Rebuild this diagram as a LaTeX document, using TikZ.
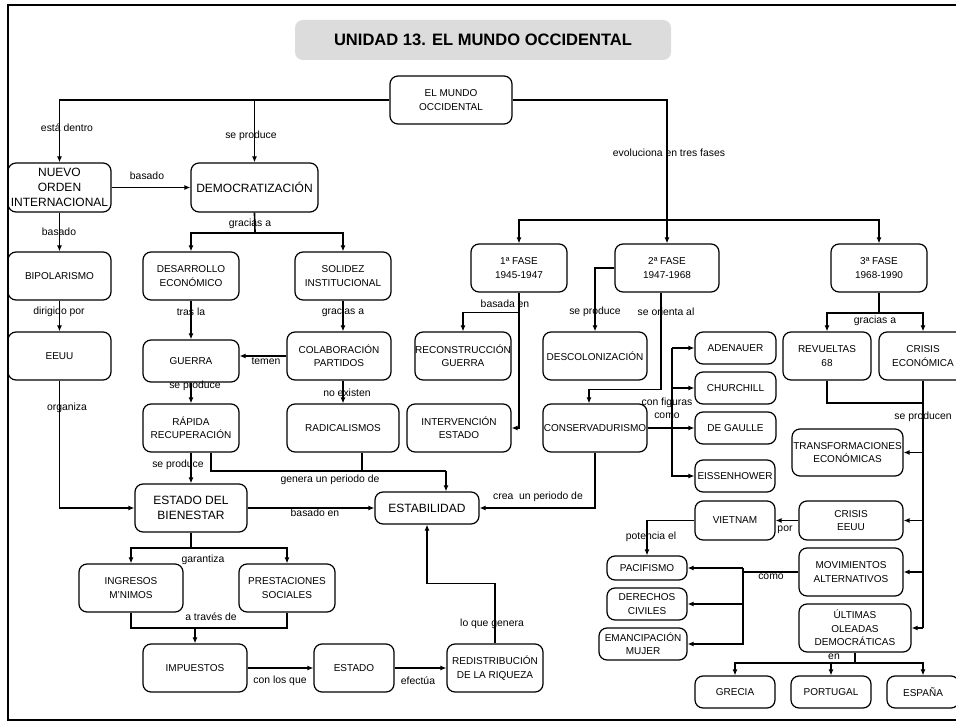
\documentclass[tikz,border=0pt]{standalone}
\usepackage{fontspec}
\setmainfont{Liberation Sans}
\usetikzlibrary{arrows.meta,calc}
\definecolor{titlegray}{HTML}{DCDCDC}
\begin{document}
\begin{tikzpicture}[x=0.75pt,y=-0.75pt,
  box/.style={draw, rounded corners=6pt, line width=0.9pt, align=center, inner sep=0pt, font=\fontsize{7.5}{10}\selectfont},
  big/.style={font=\fontsize{9}{11.25}\selectfont},
  sz/.style 2 args={minimum width=#1*0.75pt, minimum height=#2*0.75pt},
  conn/.style={line width=1.25pt, -{Latex[length=4.5pt,width=3.8pt]}},
  ln/.style={line width=1.25pt},
  lab/.style={font=\fontsize{7.8}{9.5}\selectfont, inner sep=0pt, align=center}]
\useasboundingbox (0,0) rectangle (956,723);
\draw[line width=2pt] (956,5) -- (8,5) -- (8,720) -- (956,720);

\node[fill=titlegray, rounded corners=6pt, sz={376}{40}, font=\bfseries\fontsize{12.4}{14}\selectfont] (title) at (483,40) {UNIDAD 13. EL MUNDO OCCIDENTAL};

% nodes
\node[box,sz={122}{48}] (mundo) at (451,100) {EL MUNDO\\OCCIDENTAL};
\node[box,big,sz={103}{49}] (nuevo) at (59.5,187.5) {NUEVO\\ORDEN\\INTERNACIONAL};
\node[box,big,sz={127}{49}] (demo) at (254.5,187.5) {DEMOCRATIZACIÓN};
\node[box,sz={103}{48}] (bipo) at (59.5,276) {BIPOLARISMO};
\node[box,sz={103}{48}] (eeuu) at (59.5,356) {EEUU};
\node[box,sz={96}{48}] (desa) at (191,276) {DESARROLLO\\ECONÓMICO};
\node[box,sz={96}{48}] (soli) at (343,276) {SOLIDEZ\\INSTITUCIONAL};
\node[box,sz={96}{42}] (guerra) at (191,361) {GUERRA};
\node[box,sz={104}{48}] (colab) at (339,356) {COLABORACIÓN\\PARTIDOS};
\node[box,sz={96}{48}] (rapida) at (191,428) {RÁPIDA\\RECUPERACIÓN};
\node[box,sz={112}{48}] (radic) at (343,428) {RADICALISMOS};
\node[box,big,sz={112}{48}] (bien) at (191,508) {ESTADO DEL\\BIENESTAR};
\node[box,big,sz={104}{32}] (estab) at (427,508) {ESTABILIDAD};
\node[box,sz={104}{48}] (ingr) at (131,588) {INGRESOS\\M'NIMOS};
\node[box,sz={96}{48}] (prest) at (287,588) {PRESTACIONES\\SOCIALES};
\node[box,sz={104}{48}] (impu) at (195,668) {IMPUESTOS};
\node[box,sz={80}{48}] (estado) at (354,668) {ESTADO};
\node[box,sz={96}{48}] (redis) at (495,668) {REDISTRIBUCIÓN\\DE LA RIQUEZA};
\node[box,sz={96}{48}] (f1) at (519,268) {1ª FASE\\1945-1947};
\node[box,sz={104}{48}] (f2) at (667,268) {2ª FASE\\1947-1968};
\node[box,sz={96}{48}] (f3) at (879,268) {3ª FASE\\1968-1990};
\node[box,sz={96}{48}] (recon) at (463,356) {RECONSTRUCCIÓN\\GUERRA};
\node[box,sz={104}{48}] (interv) at (459,428) {INTERVENCIÓN\\ESTADO};
\node[box,sz={104}{48}] (desco) at (595,356) {DESCOLONIZACIÓN};
\node[box,sz={104}{48}] (conse) at (595,428) {CONSERVADURISMO};
\node[box,sz={81}{32}] (aden) at (735.5,348) {ADENAUER};
\node[box,sz={81}{32}] (church) at (735.5,388) {CHURCHILL};
\node[box,sz={81}{32}] (gaulle) at (735.5,428) {DE GAULLE};
\node[box,sz={80}{32}] (eisen) at (735,476) {EISSENHOWER};
\node[box,sz={88}{48}] (revu) at (827,356) {REVUELTAS\\68};
\node[box,sz={88}{48}] (crisE) at (923,356) {CRISIS\\ECONÓMICA};
\node[box,sz={111}{47}] (transf) at (847.5,452.5) {TRANSFORMACIONES\\ECONÓMICAS};
\node[box,sz={104}{39}] (crisU) at (851,520.5) {CRISIS\\EEUU};
\node[box,sz={80}{39}] (viet) at (735,520.5) {VIETNAM};
\node[box,sz={104}{48}] (movim) at (851,572) {MOVIMIENTOS\\ALTERNATIVOS};
\node[box,sz={80}{24}] (pacif) at (647,568) {PACIFISMO};
\node[box,sz={80}{32}] (derech) at (647,604) {DERECHOS\\CIVILES};
\node[box,sz={88}{32}] (emanc) at (643,644) {EMANCIPACIÓN\\MUJER};
\node[box,sz={112}{48}] (ultim) at (855,628) {ÚLTIMAS\\OLEADAS\\DEMOCRÁTICAS};
\node[box,sz={80}{32}] (grec) at (735,692) {GRECIA};
\node[box,sz={80}{32}] (port) at (831,692) {PORTUGAL};
\node[box,sz={72}{32}] (espa) at (923,692) {ESPAÑA};

% coordinates
\coordinate (busF) at (667,220);
\coordinate (busD) at (255,233);
\coordinate (g1) at (446,471);
\coordinate (busB) at (191,548);
\coordinate (busI) at (195,628);
\coordinate (cb) at (672,348);
\coordinate (b3) at (879,313);
\coordinate (b4) at (923,403);
\coordinate (mb) at (743,572);
\coordinate (bu) at (855,663);

% connectors
\draw[conn] (mundo.west) -| (nuevo.north);
\draw[conn] (mundo.west -| demo.north) -- (demo.north);
\draw[conn] (mundo.east) -| (f2.north);
\draw[conn] (busF) -| (f1.north);
\draw[conn] (busF) -| (f3.north);
\draw[conn] (nuevo.east) -- (demo.west);
\draw[ln] (demo.south) -- (busD);
\draw[conn] (busD) -| (desa.north);
\draw[conn] (busD) -| (soli.north);
\draw[conn] (nuevo.south) -- (bipo.north);
\draw[conn] (bipo.south) -- (eeuu.north);
\draw[conn] (eeuu.south) |- (bien.west);
\draw[conn] (desa.south) -- (guerra.north);
\draw[conn] (soli.south) -- (soli.south |- colab.north);
\draw[conn] (colab.west) -- (colab.west -| guerra.east);
\draw[conn] (guerra.south) -- (rapida.north);
\draw[conn] (radic.north |- colab.south) -- (radic.north);
\draw[conn] (rapida.south) -- (bien.north);
\draw[ln] ($(rapida.south)+(20,0)$) |- (g1);
\draw[ln] ($(radic.south)+(19,0)$) -- ($(radic.south)+(19,19)$);
\draw[conn] (g1) -- (g1 |- estab.north);
\draw[conn] (bien.east) -- (estab.west);
\draw[ln] (bien.south) -- (busB);
\draw[conn] (busB) -| (ingr.north);
\draw[conn] (busB) -| (prest.north);
\draw[ln] (ingr.south) |- (busI) -| (prest.south);
\draw[conn] (busI) -- (impu.north);
\draw[conn] (impu.east) -- (estado.west);
\draw[conn] (estado.east) -- (redis.west);
\draw[conn] (redis.north) -- ++(0,-60) -| (estab.south);
\draw[conn] (f1.south) |- (interv.east);
\draw[conn] ($(f1.south)+(0,20)$) -| (recon.north);
\draw[conn] (f2.west) -| (desco.north);
\draw[conn] ($(f2.south)+(-6,0)$) -- ++(0,97) -| ($(conse.north)+(-6,0)$);
\draw[conn] (conse.east) -- (gaulle.west);
\draw[conn] (cb) -- (aden.west);
\draw[conn] (church.west -| cb) -- (church.west);
\draw[conn] (cb) |- (eisen.west);
\draw[conn] (conse.south) |- (estab.east);
\draw[ln] (f3.south) -- (b3);
\draw[conn] (b3) -| (revu.north);
\draw[conn] (b3) -| (crisE.north);
\draw[ln] (revu.south) |- (b4);
\draw[ln] (crisE.south) -- (crisE.south |- ultim.east);
\draw[conn] (crisE.south |- transf.east) -- (transf.east);
\draw[conn] (crisE.south |- crisU.east) -- (crisU.east);
\draw[conn] (crisE.south |- movim.east) -- (movim.east);
\draw[conn] (crisE.south |- ultim.east) -- (ultim.east);
\draw[conn] (crisU.west) -- (viet.east);
\draw[conn] (viet.west) -| (pacif.north);
\draw[ln] (movim.west) -- (mb);
\draw[conn] (pacif.east -| mb) -- (pacif.east);
\draw[conn] (pacif.east -| mb) |- (emanc.east);
\draw[conn] (derech.east -| mb) -- (derech.east);
\draw[ln] (ultim.south) -- (bu);
\draw[conn] (bu) -| (grec.north);
\draw[conn] (bu) -| (port.north);
\draw[conn] (bu) -| (espa.north);

% labels
\node[lab] (la1) at (67,128) {está dentro};
\node[lab] (la2) at (251,136) {se produce};
\node[lab] (la3) at (669,153) {evoluciona en tres fases};
\node[lab] (la4) at (147,176) {basado};
\node[lab] (la5) at (250,224) {gracias a};
\node[lab] (la6) at (59,232) {basado};
\node[lab] (la7) at (59,312) {dirigido por};
\node[lab] (la8) at (67,408) {organiza};
\node[lab] (la9) at (191,312) {tras la};
\node[lab] (la10) at (343,312) {gracias a};
\node[lab] (la11) at (266,361) {temen};
\node[lab] (la12) at (195,386) {se produce};
\node[lab] (la13) at (347,393) {no existen};
\node[lab] (la14) at (178,465) {se produce};
\node[lab] (la15) at (330,480) {genera un periodo de};
\node[lab] (la16) at (315,513) {basado en};
\node[lab] (la17) at (203,560) {garantiza};
\node[lab] (la18) at (211,617) {a través de};
\node[lab] (la19) at (280,681) {con los que};
\node[lab] (la20) at (418,681) {efectúa};
\node[lab] (la21) at (492,624) {lo que genera};
\node[lab] (la22) at (505,304) {basada en};
\node[lab] (la23) at (595,312) {se produce};
\node[lab] (la24) at (666,312) {se orienta al};
\node[lab] (la25) at (667,408) {con figuras\\como};
\node[lab] (la26) at (538,497) {crea\ \ un periodo de};
\node[lab] (la27) at (875,321) {gracias a};
\node[lab] (la28) at (923,417) {se producen};
\node[lab] (la29) at (785,530) {por};
\node[lab] (la30) at (651,537) {potencia el};
\node[lab] (la31) at (771,577) {como};
\node[lab] (la32) at (834,657) {en};
\end{tikzpicture}
\end{document}
